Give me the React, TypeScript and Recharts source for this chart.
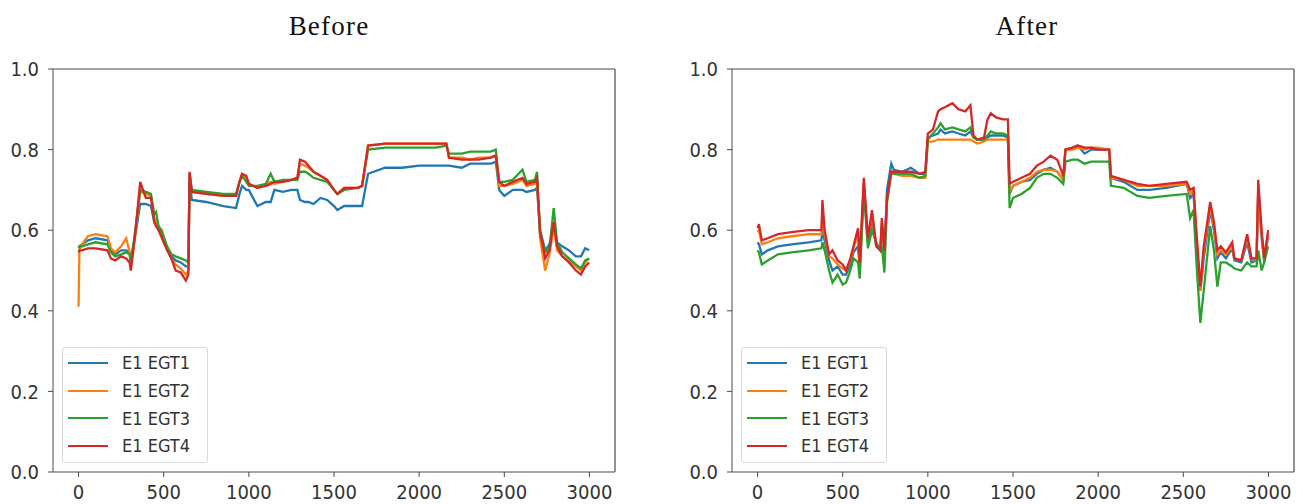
import React from "react";
import { LineChart, Line, XAxis, YAxis, Legend, ReferenceLine } from "recharts";

const beforeX = [0, 5, 20, 55, 100, 170, 190, 215, 250, 280, 300, 307, 330, 362, 395, 425, 445, 455, 470, 490, 520, 545, 570, 600, 630, 645, 652, 665, 750, 850, 925, 945, 960, 985, 1000, 1050, 1100, 1128, 1150, 1200, 1250, 1285, 1300, 1330, 1350, 1380, 1420, 1460, 1500, 1520, 1560, 1640, 1665, 1700, 1800, 1900, 2000, 2100, 2160, 2175, 2250, 2300, 2350, 2420, 2450, 2470, 2500, 2550, 2607, 2630, 2680, 2692, 2710, 2740, 2765, 2790, 2810, 2840, 2880, 2920, 2950, 2975, 2998];
const beforeEgt1 = [0.56, 0.56, 0.565, 0.575, 0.58, 0.575, 0.55, 0.54, 0.55, 0.55, 0.545, 0.53, 0.58, 0.665, 0.665, 0.66, 0.62, 0.615, 0.6, 0.59, 0.555, 0.535, 0.525, 0.52, 0.51, 0.51, 0.73, 0.675, 0.67, 0.66, 0.655, 0.69, 0.71, 0.7, 0.7, 0.66, 0.67, 0.67, 0.7, 0.695, 0.7, 0.7, 0.675, 0.67, 0.67, 0.665, 0.68, 0.675, 0.66, 0.65, 0.66, 0.66, 0.66, 0.74, 0.755, 0.755, 0.76, 0.76, 0.76, 0.76, 0.755, 0.765, 0.765, 0.765, 0.77, 0.7, 0.685, 0.7, 0.7, 0.695, 0.7, 0.705, 0.6, 0.55, 0.565, 0.6, 0.57, 0.56, 0.55, 0.535, 0.535, 0.555, 0.55];
const beforeEgt2 = [0.41, 0.55, 0.565, 0.585, 0.59, 0.585, 0.555, 0.545, 0.56, 0.58, 0.545, 0.51, 0.58, 0.695, 0.69, 0.685, 0.63, 0.62, 0.61, 0.6, 0.555, 0.53, 0.515, 0.505, 0.49, 0.5, 0.74, 0.695, 0.69, 0.685, 0.685, 0.72, 0.74, 0.73, 0.715, 0.705, 0.715, 0.72, 0.715, 0.72, 0.725, 0.73, 0.765, 0.76, 0.755, 0.745, 0.735, 0.725, 0.7, 0.69, 0.705, 0.705, 0.71, 0.81, 0.815, 0.815, 0.815, 0.815, 0.815, 0.78, 0.78, 0.775, 0.78, 0.78, 0.785, 0.71, 0.71, 0.715, 0.725, 0.71, 0.715, 0.725, 0.58, 0.5, 0.54, 0.61, 0.55, 0.535, 0.525, 0.51, 0.5, 0.52, 0.53];
const beforeEgt3 = [0.555, 0.56, 0.56, 0.565, 0.57, 0.565, 0.545, 0.535, 0.54, 0.545, 0.54, 0.515, 0.59, 0.7, 0.695, 0.69, 0.64, 0.645, 0.61, 0.595, 0.56, 0.54, 0.535, 0.53, 0.525, 0.52, 0.74, 0.7, 0.695, 0.69, 0.69, 0.72, 0.735, 0.72, 0.71, 0.71, 0.715, 0.74, 0.72, 0.725, 0.725, 0.725, 0.745, 0.745, 0.74, 0.73, 0.725, 0.72, 0.7, 0.69, 0.7, 0.705, 0.71, 0.8, 0.805, 0.805, 0.805, 0.805, 0.81, 0.79, 0.79, 0.795, 0.795, 0.795, 0.8, 0.72, 0.72, 0.725, 0.75, 0.72, 0.725, 0.745, 0.59, 0.545, 0.555, 0.655, 0.57, 0.545, 0.53, 0.515, 0.505, 0.525, 0.53];
const beforeEgt4 = [0.545, 0.55, 0.55, 0.555, 0.555, 0.55, 0.53, 0.525, 0.535, 0.53, 0.52, 0.5, 0.58, 0.72, 0.68, 0.68, 0.62, 0.61, 0.6, 0.58, 0.55, 0.53, 0.5, 0.495, 0.475, 0.49, 0.745, 0.695, 0.69, 0.685, 0.685, 0.72, 0.74, 0.735, 0.715, 0.705, 0.71, 0.715, 0.72, 0.72, 0.725, 0.73, 0.775, 0.77, 0.76, 0.745, 0.735, 0.725, 0.7, 0.69, 0.705, 0.705, 0.71, 0.81, 0.815, 0.815, 0.815, 0.815, 0.815, 0.78, 0.775, 0.775, 0.775, 0.78, 0.785, 0.72, 0.71, 0.72, 0.73, 0.715, 0.72, 0.73, 0.6, 0.53, 0.55, 0.62, 0.56, 0.535, 0.52, 0.5, 0.49, 0.51, 0.52];

// same for the "After" panel
const afterX = [0, 8, 25, 60, 120, 200, 300, 375, 381, 394, 420, 440, 470, 500, 520, 545, 563, 590, 600, 624, 648, 672, 697, 721, 730, 745, 760, 785, 800, 850, 900, 950, 985, 1000, 1030, 1060, 1075, 1100, 1144, 1180, 1220, 1250, 1268, 1290, 1330, 1350, 1370, 1400, 1440, 1470, 1480, 1500, 1550, 1600, 1640, 1680, 1720, 1760, 1795, 1808, 1850, 1880, 1920, 1960, 2000, 2065, 2075, 2150, 2230, 2300, 2400, 2520, 2540, 2560, 2580, 2600, 2620, 2658, 2680, 2700, 2720, 2750, 2787, 2800, 2840, 2875, 2900, 2930, 2940, 2960, 2975, 2998];
const afterEgt1 = [0.57, 0.565, 0.54, 0.55, 0.56, 0.565, 0.57, 0.575, 0.6, 0.575, 0.525, 0.5, 0.51, 0.49, 0.49, 0.515, 0.545, 0.56, 0.5, 0.71, 0.57, 0.63, 0.56, 0.55, 0.61, 0.54, 0.7, 0.765, 0.75, 0.745, 0.755, 0.74, 0.74, 0.83, 0.835, 0.84, 0.85, 0.84, 0.845, 0.84, 0.835, 0.845, 0.83, 0.825, 0.825, 0.83, 0.835, 0.835, 0.835, 0.83, 0.69, 0.71, 0.72, 0.725, 0.74, 0.75, 0.755, 0.745, 0.725, 0.8, 0.805, 0.81, 0.79, 0.8, 0.8, 0.8, 0.73, 0.72, 0.7, 0.7, 0.705, 0.715, 0.68, 0.69, 0.55, 0.45, 0.53, 0.65, 0.6, 0.53, 0.545, 0.53, 0.555, 0.525, 0.52, 0.57, 0.52, 0.525, 0.69, 0.58, 0.52, 0.585];
const afterEgt2 = [0.595, 0.6, 0.565, 0.57, 0.58, 0.585, 0.59, 0.59, 0.64, 0.59, 0.535, 0.53, 0.515, 0.505, 0.5, 0.525, 0.555, 0.59, 0.515, 0.72, 0.58, 0.64, 0.565, 0.55, 0.62, 0.55, 0.67, 0.74, 0.74, 0.735, 0.735, 0.73, 0.73, 0.82, 0.82, 0.825, 0.825, 0.825, 0.825, 0.825, 0.825, 0.825, 0.82, 0.815, 0.82, 0.825, 0.825, 0.825, 0.825, 0.825, 0.695, 0.71, 0.72, 0.73, 0.745, 0.75, 0.75, 0.745, 0.725, 0.8, 0.8, 0.805, 0.8, 0.805, 0.805, 0.8, 0.73, 0.725, 0.71, 0.71, 0.71, 0.715, 0.69, 0.7, 0.56, 0.45, 0.55, 0.66, 0.61, 0.54, 0.55, 0.54, 0.56, 0.53, 0.525, 0.58, 0.53, 0.525, 0.7, 0.59, 0.525, 0.59];
const afterEgt3 = [0.55, 0.545, 0.515, 0.525, 0.54, 0.545, 0.55, 0.555, 0.57, 0.55, 0.5, 0.47, 0.49, 0.465, 0.47, 0.5, 0.53, 0.52, 0.48, 0.7, 0.555, 0.6, 0.57, 0.55, 0.56, 0.495, 0.67, 0.745, 0.74, 0.74, 0.74, 0.73, 0.735, 0.825, 0.84, 0.855, 0.865, 0.85, 0.855, 0.85, 0.845, 0.855, 0.83, 0.825, 0.825, 0.835, 0.845, 0.84, 0.84, 0.835, 0.655, 0.68, 0.69, 0.705, 0.73, 0.74, 0.74, 0.73, 0.715, 0.77, 0.775, 0.775, 0.765, 0.77, 0.77, 0.77, 0.71, 0.705, 0.685, 0.68, 0.685, 0.69, 0.63, 0.65, 0.5, 0.37, 0.45, 0.61, 0.55, 0.46, 0.52, 0.52, 0.51, 0.505, 0.5, 0.52, 0.51, 0.51, 0.55, 0.5, 0.52, 0.56];
const afterEgt4 = [0.605, 0.615, 0.575, 0.58, 0.59, 0.595, 0.6, 0.6, 0.675, 0.6, 0.54, 0.55, 0.525, 0.515, 0.5, 0.53, 0.56, 0.605, 0.52, 0.73, 0.58, 0.65, 0.56, 0.55, 0.63, 0.55, 0.68, 0.745, 0.745, 0.745, 0.745, 0.74, 0.745, 0.84, 0.85, 0.895, 0.9, 0.905, 0.915, 0.9, 0.895, 0.91, 0.835, 0.825, 0.83, 0.875, 0.89, 0.88, 0.875, 0.875, 0.715, 0.72, 0.73, 0.74, 0.76, 0.77, 0.785, 0.775, 0.735, 0.8, 0.805, 0.81, 0.805, 0.805, 0.8, 0.8, 0.735, 0.725, 0.715, 0.71, 0.715, 0.72, 0.7, 0.705, 0.58, 0.46, 0.56, 0.67, 0.62, 0.55, 0.56, 0.545, 0.57, 0.53, 0.525, 0.59, 0.53, 0.53, 0.725, 0.6, 0.53, 0.6];

const seriesNames = ["E1 EGT1", "E1 EGT2", "E1 EGT3", "E1 EGT4"];
const seriesColors = ["#1f77b4", "#ff7f0e", "#2ca02c", "#d62728"];
const xTicks = [0, 500, 1000, 1500, 2000, 2500, 3000];
const yTicks = [0, 0.2, 0.4, 0.6, 0.8, 1.0];

const tickFont = "'Liberation Sans Narrow', 'DejaVu Sans Condensed', 'DejaVu Sans', sans-serif";
const frame = "#4a4a4a";

function buildRows(xs: number[], s1: number[], s2: number[], s3: number[], s4: number[]) {
  return xs.map((x, i) => ({ x, s0: s1[i], s1: s2[i], s2: s3[i], s3: s4[i] }));
}

const beforeRows = buildRows(beforeX, beforeEgt1, beforeEgt2, beforeEgt3, beforeEgt4);
const afterRows = buildRows(afterX, afterEgt1, afterEgt2, afterEgt3, afterEgt4);

function LegendBox({ payload }: any) {
  return (
    <div
      style={{
        width: 146,
        height: 116,
        background: "#fff",
        border: "1px solid #d8d8d8",
        borderRadius: 3,
        padding: "1px 0 0 5px",
        fontFamily: tickFont,
        fontSize: 18,
        color: "#333",
        boxSizing: "border-box",
        whiteSpace: "nowrap",
      }}
    >
      {(payload || []).map((p: any) => (
        <div key={p.value} style={{ display: "flex", alignItems: "center", height: 27.7 }}>
          <span style={{ display: "inline-block", width: 40, height: 2, background: p.color, marginRight: 14 }} />
          <span>{p.value}</span>
        </div>
      ))}
    </div>
  );
}

function Panel({ rows, width, right }: { rows: any[]; width: number; right: number }) {
  return (
    <LineChart width={width} height={504} data={rows} margin={{ top: 69, right, left: 0, bottom: 0 }}>
      <XAxis
        dataKey="x"
        type="number"
        domain={[-150, 3150]}
        ticks={xTicks}
        allowDataOverflow
        height={32}
        stroke={frame}
        tickSize={5}
        tickMargin={8}
        tick={{ fill: "#333", fontSize: 20, fontFamily: tickFont }}
      />
      <YAxis
        type="number"
        domain={[0, 1]}
        ticks={yTicks}
        width={53}
        stroke={frame}
        tickSize={5}
        tickMargin={9}
        tickFormatter={(v: number) => v.toFixed(1)}
        tick={{ fill: "#333", fontSize: 20, fontFamily: tickFont }}
      />
      <ReferenceLine y={1} stroke={frame} strokeWidth={1.2} />
      <ReferenceLine x={3150} stroke={frame} strokeWidth={1.2} />
      {seriesNames.map((name, i) => (
        <Line
          key={name}
          dataKey={"s" + i}
          name={name}
          stroke={seriesColors[i]}
          strokeWidth={2.3}
          dot={false}
          type="linear"
          isAnimationActive={false}
        />
      ))}
      <Legend
        layout="vertical"
        content={<LegendBox />}
        wrapperStyle={{ left: 62, top: 347, width: 0, height: 0, bottom: "auto", overflow: "visible" }}
      />
    </LineChart>
  );
}

const titleStyle: React.CSSProperties = {
  position: "absolute",
  top: 11,
  width: 200,
  textAlign: "center",
  fontFamily: "'Liberation Serif', serif",
  fontSize: 27,
  lineHeight: "30px",
  letterSpacing: 1.2,
  color: "#111",
};

export default function App() {
  return (
    <div style={{ position: "absolute", left: 0, top: 0, width: 1303, height: 504, background: "#fff", overflow: "hidden" }}>
      <div style={{ ...titleStyle, left: 329 - 100 }}>Before</div>
      <div style={{ ...titleStyle, left: 1027 - 100 }}>After</div>
      <div style={{ position: "absolute", left: 0, top: 0 }}>
        <Panel rows={beforeRows} width={640} right={25} />
      </div>
      <div style={{ position: "absolute", left: 679, top: 0 }}>
        <Panel rows={afterRows} width={624} right={9} />
      </div>
    </div>
  );
}
